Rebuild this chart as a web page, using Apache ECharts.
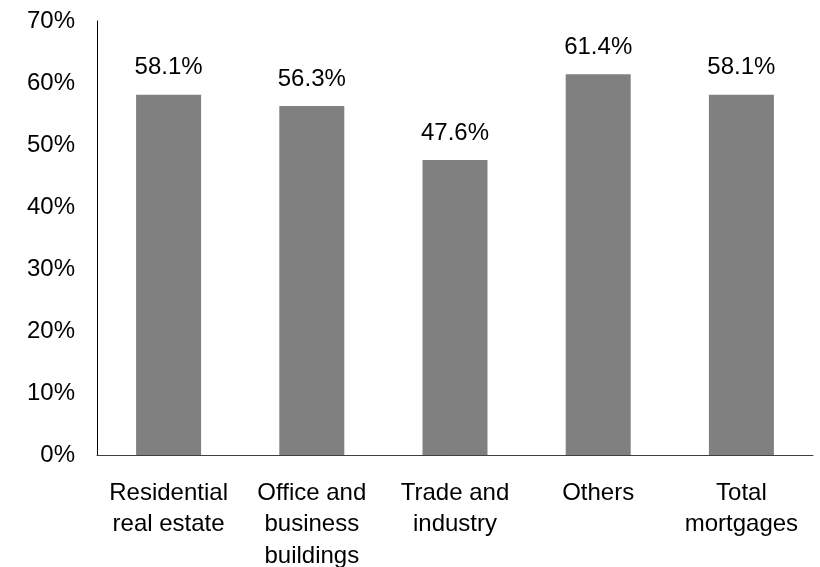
<!DOCTYPE html>
<html>
<head>
<meta charset="utf-8">
<script src="https://cdn.jsdelivr.net/npm/echarts@6/dist/echarts.min.js"></script>
<style>html,body{margin:0;padding:0;background:#fff;}#c{width:820px;height:567px;}</style>
</head>
<body>
<div id="c"></div>
<script>
const categories = ["Residential\nreal estate", "Office and\nbusiness\nbuildings", "Trade and\nindustry", "Others", "Total\nmortgages"];
const values = [58.1, 56.3, 47.6, 61.4, 58.1];
const yTicks = [0, 10, 20, 30, 40, 50, 60, 70];

const chart = echarts.init(document.getElementById('c'), null, {renderer: 'canvas'});
const font = 'Liberation Sans, Arial, sans-serif';
chart.setOption({
  animation: false,
  grid: {left: 97, right: 7, top: 21, bottom: 112, containLabel: false, outerBoundsMode: 'none'},
  xAxis: {
    type: 'category',
    data: categories,
    axisLine: {lineStyle: {color: '#404040', width: 1}},
    axisTick: {show: false},
    axisLabel: {color: '#000', fontFamily: font, fontSize: 24, lineHeight: 31.5, margin: 22.5, interval: 0}
  },
  yAxis: {
    type: 'value',
    min: yTicks[0],
    max: yTicks[yTicks.length - 1],
    interval: 10,
    splitLine: {show: false},
    axisLine: {show: true, lineStyle: {color: '#000', width: 1}},
    axisTick: {show: false},
    axisLabel: {color: '#000', fontFamily: font, fontSize: 24, margin: 22, formatter: v => v + '%'}
  },
  series: [{
    type: 'bar',
    data: values,
    barWidth: 65,
    itemStyle: {color: '#808080'},
    label: {show: true, position: 'top', distance: 15, color: '#000', fontFamily: font, fontSize: 24, formatter: p => p.value.toFixed(1) + '%'}
  }]
});
</script>
</body>
</html>
